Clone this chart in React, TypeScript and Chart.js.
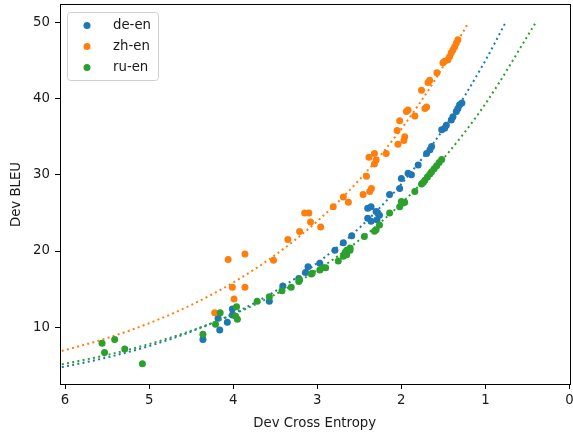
import React, { useEffect, useRef } from 'react';
import { Chart, registerables } from 'chart.js';

Chart.register(...registerables);

// ---- data ----
const seriesLabels = ['de-en', 'zh-en', 'ru-en'];
const seriesColors = ['#1f77b4', '#ff7f0e', '#2ca02c'];

const deEnCE = [4.36, 4.16, 4.07, 4.18, 4.01, 4.01, 3.57, 3.41, 3.22, 3.14, 3.11, 2.97, 2.79, 2.69, 2.59, 2.40, 2.36, 2.30, 2.26, 2.40, 2.36, 2.28, 2.29, 2.14, 2.02, 2.0, 1.92, 1.88, 1.80, 1.70, 1.66, 1.64, 1.52, 1.485, 1.465, 1.406, 1.386, 1.346, 1.327, 1.307, 1.28];
const deEnBLEU = [8.4, 9.65, 10.65, 11.2, 11.6, 12.4, 13.4, 15.4, 16.4, 17.2, 17.95, 18.4, 20.1, 21.1, 22.0, 24.3, 23.9, 25.2, 24.7, 25.6, 25.8, 25.0, 24.1, 27.4, 28.2, 29.5, 30.2, 30.0, 31.3, 32.8, 33.3, 33.7, 35.9, 36.1, 36.5, 37.2, 37.6, 38.3, 38.7, 39.2, 39.4];

const zhEnCE = [4.22, 3.99, 4.01, 3.86, 4.06, 3.86, 3.52, 3.35, 3.21, 3.15, 3.10, 3.08, 2.96, 2.81, 2.63, 2.69, 2.455, 2.376, 2.356, 2.415, 2.385, 2.32, 2.30, 2.32, 2.18, 2.05, 2.04, 1.97, 1.96, 2.02, 1.92, 1.94, 1.84, 1.70, 1.72, 1.76, 1.663, 1.683, 1.577, 1.505, 1.485, 1.446, 1.426, 1.406, 1.386, 1.366, 1.346, 1.327];
const zhEnBLEU = [11.9, 13.7, 15.25, 15.25, 18.9, 19.6, 18.8, 21.5, 22.55, 25.0, 25.0, 23.8, 23.15, 25.8, 26.4, 27.1, 27.4, 27.8, 28.2, 29.8, 32.3, 32.8, 31.95, 31.4, 32.8, 35.8, 34.0, 34.5, 35.0, 37.1, 38.5, 38.3, 37.7, 38.9, 38.7, 41.1, 42.4, 42.1, 43.4, 44.7, 44.9, 45.1, 45.5, 46.0, 46.4, 46.8, 47.3, 47.7];

const ruEnCE = [5.56, 5.53, 5.41, 5.29, 5.08, 4.36, 4.21, 4.155, 3.96, 3.97, 3.95, 3.715, 3.57, 3.42, 3.31, 3.22, 3.21, 3.07, 3.06, 2.97, 2.93, 2.90, 2.75, 2.69, 2.65, 2.67, 2.61, 2.65, 2.61, 2.44, 2.32, 2.30, 2.26, 2.14, 2.02, 2.0, 1.98, 1.96, 1.84, 1.76, 1.74, 1.72, 1.69, 1.66, 1.64, 1.61, 1.58, 1.55, 1.52];
const ruEnBLEU = [7.9, 6.7, 8.4, 7.15, 5.2, 9.1, 10.4, 11.9, 12.7, 11.45, 11.05, 13.4, 14.0, 14.8, 15.25, 16.0, 16.2, 17.0, 17.1, 17.5, 17.8, 17.8, 18.7, 19.3, 19.5, 19.8, 20.1, 20.1, 20.4, 21.9, 22.6, 22.8, 23.4, 25.0, 25.8, 26.5, 26.3, 26.4, 27.8, 28.8, 29.0, 29.3, 29.7, 30.1, 30.4, 30.8, 31.2, 31.6, 32.0];

// fitted trend curves
const deEnFitCE = [6.1, 5.5, 5.0, 4.5, 4.0, 3.5, 3.0, 2.5, 2.0, 1.5, 1.0, 0.76];
const deEnFitBLEU = [4.62, 6.04, 7.54, 9.43, 11.78, 14.74, 18.43, 23.03, 28.79, 35.99, 44.99, 50.0];
const zhEnFitCE = [6.1, 5.5, 5.0, 4.5, 4.0, 3.5, 3.0, 2.5, 2.0, 1.6, 1.2];
const zhEnFitBLEU = [6.71, 8.58, 10.53, 12.92, 15.87, 19.48, 23.91, 29.35, 36.03, 42.45, 50.0];
const ruEnFitCE = [6.1, 5.5, 5.0, 4.5, 4.0, 3.5, 3.0, 2.5, 2.0, 1.5, 1.0, 0.4];
const ruEnFitBLEU = [5.0, 6.37, 7.8, 9.55, 11.69, 14.31, 17.51, 21.43, 26.24, 32.12, 39.32, 50.0];

const xTicks = [0, 1, 2, 3, 4, 5, 6];
const yTicks = [10, 20, 30, 40, 50];
const xLimits = [0, 6.06];
const yLimits = [2.56, 52.27];

const FONT = '"DejaVu Sans", sans-serif';
const FS = 13.3;
const TEXT = '#1a1a1a';

const zip = (xs: number[], ys: number[]) => xs.map((x, i) => ({ x, y: ys[i] }));

const framePlugin = {
  id: 'frameAndLegend',
  afterDatasetsDraw(chart: any) {
    const { ctx, chartArea: a } = chart;
    ctx.save();
    ctx.strokeStyle = '#000';
    ctx.lineWidth = 1;
    ctx.strokeRect(Math.round(a.left) + 0.5, Math.round(a.top) - 0.5, Math.round(a.right) - Math.round(a.left), Math.round(a.bottom) - Math.round(a.top) + 1);
    ctx.restore();
  },
  afterDraw(chart: any) {
    const { ctx } = chart;
    ctx.save();
    const bx = 67.5, by = 12.5, bw = 91, bh = 68;
    ctx.beginPath();
    if ((ctx as any).roundRect) (ctx as any).roundRect(bx, by, bw, bh, 3);
    else ctx.rect(bx, by, bw, bh);
    ctx.fillStyle = 'rgba(255,255,255,0.8)';
    ctx.fill();
    ctx.strokeStyle = '#d0d0d0';
    ctx.lineWidth = 1;
    ctx.stroke();
    const rows = [25.5, 46.5, 67.5];
    ctx.font = `${FS}px ${FONT}`;
    ctx.textBaseline = 'middle';
    ctx.textAlign = 'left';
    seriesLabels.forEach((lab, i) => {
      ctx.beginPath();
      ctx.arc(87, rows[i], 3.5, 0, Math.PI * 2);
      ctx.fillStyle = seriesColors[i];
      ctx.fill();
      ctx.fillStyle = TEXT;
      ctx.fillText(lab, 113, rows[i]);
    });
    ctx.restore();
  },
};

export default function App() {
  const ref = useRef<HTMLCanvasElement | null>(null);
  useEffect(() => {
    if (!ref.current) return;
    const scatter = (i: number, xs: number[], ys: number[], order: number) => ({
      label: seriesLabels[i],
      data: zip(xs, ys),
      backgroundColor: seriesColors[i],
      borderColor: seriesColors[i],
      pointRadius: 3.5,
      pointBorderWidth: 0,
      pointHoverRadius: 3.5,
      showLine: false,
      order,
    });
    const fit = (i: number, xs: number[], ys: number[], order: number) => ({
      label: seriesLabels[i] + ' fit',
      data: zip(xs, ys),
      borderColor: seriesColors[i],
      backgroundColor: seriesColors[i],
      borderWidth: 2,
      borderDash: [2, 3.3],
      pointRadius: 0,
      showLine: true,
      cubicInterpolationMode: 'monotone',
      clip: 0,
      order,
    });
    const chart = new Chart(ref.current, {
      type: 'scatter',
      data: {
        datasets: [
          scatter(0, deEnCE, deEnBLEU, 6),
          fit(0, deEnFitCE, deEnFitBLEU, 5),
          scatter(1, zhEnCE, zhEnBLEU, 4),
          fit(1, zhEnFitCE, zhEnFitBLEU, 3),
          scatter(2, ruEnCE, ruEnBLEU, 2),
          fit(2, ruEnFitCE, ruEnFitBLEU, 1),
        ] as any,
      },
      options: {
        animation: false,
        responsive: false,
        maintainAspectRatio: false,
        events: [],
        layout: { padding: { top: 5, right: 3, left: 0, bottom: 0 } },
        plugins: { legend: { display: false }, tooltip: { enabled: false } },
        scales: {
          x: {
            type: 'linear',
            reverse: true,
            min: xLimits[0],
            max: xLimits[1],
            border: { display: false },
            grid: { drawOnChartArea: false, drawTicks: true, tickLength: 5, tickColor: '#000', lineWidth: 1 },
            afterBuildTicks: (s: any) => { s.ticks = xTicks.map((v) => ({ value: v })); },
            ticks: { color: TEXT, font: { family: FONT, size: FS }, padding: 4, maxRotation: 0, callback: (v: any) => String(v) },
            title: { display: true, text: 'Dev Cross Entropy', color: TEXT, font: { family: FONT, size: FS }, padding: { top: 0, bottom: 3 } },
            afterFit: (s: any) => { s.height = 51; s.paddingLeft = 0; s.paddingRight = 0; },
          },
          y: {
            type: 'linear',
            min: yLimits[0],
            max: yLimits[1],
            border: { display: false },
            grid: { drawOnChartArea: false, drawTicks: true, tickLength: 5, tickColor: '#000', lineWidth: 1 },
            afterBuildTicks: (s: any) => { s.ticks = yTicks.map((v) => ({ value: v })); },
            ticks: { color: TEXT, font: { family: FONT, size: FS }, padding: 5, callback: (v: any) => String(v) },
            title: { display: true, text: 'Dev BLEU', color: TEXT, font: { family: FONT, size: FS }, padding: { top: 9, bottom: 0 } },
            afterFit: (s: any) => { s.width = 60; s.paddingTop = 0; s.paddingBottom = 0; },
          },
        },
      } as any,
      plugins: [framePlugin],
    });
    return () => chart.destroy();
  }, []);
  return (
    <div style={{ position: 'fixed', left: 0, top: 0, width: 573, height: 435, background: '#fff' }}>
      <canvas ref={ref} width={573} height={435} style={{ display: 'block', width: 573, height: 435 }} />
    </div>
  );
}
